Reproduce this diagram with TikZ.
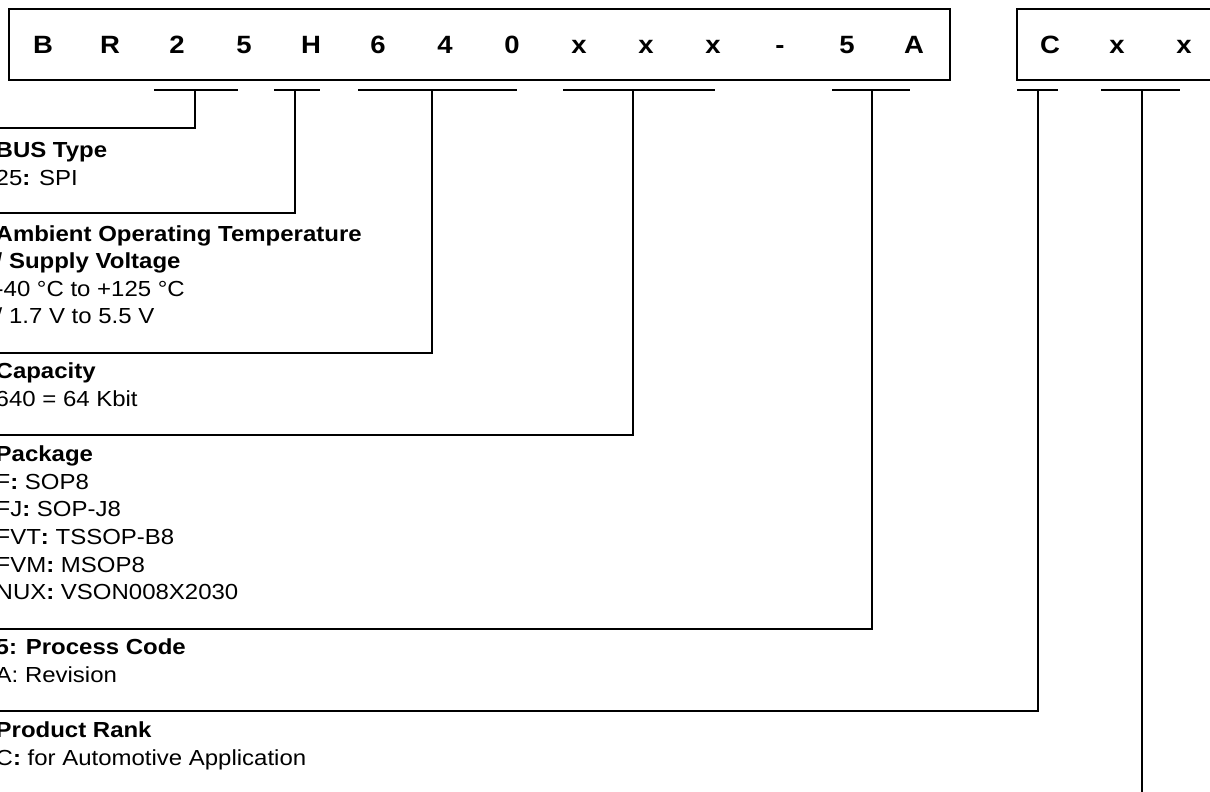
\documentclass[tikz,border=0pt]{standalone}
\usepackage{fontspec}
\setmainfont{Liberation Sans}[FakeStretch=1.1]
\begin{document}
\begin{tikzpicture}[x=1pt,y=-1pt,
  boxline/.style={line width=1.9pt},
  conn/.style={line width=1.5pt},
  letter/.style={font=\fontsize{25}{25}\selectfont\bfseries,inner sep=0pt,anchor=base},
  ttl/.style={font=\fontsize{21.8}{27}\selectfont\bfseries,inner sep=0pt,anchor=base west},
  txt/.style={font=\fontsize{21.8}{27}\selectfont,inner sep=0pt,anchor=base west}]
\useasboundingbox (0,0) rectangle (1210,792);
\clip (0,0) rectangle (1210,792);
% boxes
\draw[boxline] (9,9) rectangle (950,80);
\draw[boxline] (1017,9) rectangle (1240,80);
% letters
\foreach \ch [count=\i from 0] in {B,R,2,5,H,6,4,0,x,x,x,-,5,A}
  \node[letter] (L\i) at ({43+67*\i},53.5) {\ch};
\foreach \ch [count=\i from 0] in {C,x,x}
  \node[letter] (M\i) at ({1050+67*\i},53.5) {\ch};
% bars
\draw[conn] (154,90) -- (238,90); \coordinate (b1) at (195,91);
\draw[conn] (274,90) -- (320,90); \coordinate (b2) at (295,91);
\draw[conn] (358,90) -- (517,90); \coordinate (b3) at (432,91);
\draw[conn] (563,90) -- (715,90); \coordinate (b4) at (633,91);
\draw[conn] (832,90) -- (910,90); \coordinate (b5) at (872,91);
\draw[conn] (1017,90) -- (1058,90); \coordinate (b6) at (1038,91);
\draw[conn] (1101,90) -- (1180,90); \coordinate (b7) at (1142,91);
% left ends
\coordinate (e1) at (-5,128);
\coordinate (e2) at (-5,213);
\coordinate (e3) at (-5,353);
\coordinate (e4) at (-5,435);
\coordinate (e5) at (-5,629);
\coordinate (e6) at (-5,711);
\coordinate (e7) at (1142,800);
% connectors
\draw[conn] (b1) |- (e1);
\draw[conn] (b2) |- (e2);
\draw[conn] (b3) |- (e3);
\draw[conn] (b4) |- (e4);
\draw[conn] (b5) |- (e5);
\draw[conn] (b6) |- (e6);
\draw[conn] (b7) -- (e7);
% texts
\node[ttl] (t1a) at (-4.5,157) {BUS Type};
\node[txt] (t1b) at (-4.5,185) {25\textbf{:} SPI};
\node[ttl] (t2a) at (-4.5,241) {Ambient Operating Temperature};
\node[ttl] (t2b) at (-4.5,268) {/ Supply Voltage};
\node[txt] (t2c) at (-4.5,296) {-40 °C to +125 °C};
\node[txt] (t2d) at (-4.5,323) {/ 1.7 V to 5.5 V};
\node[ttl] (t3a) at (-4.5,378) {Capacity};
\node[txt] (t3b) at (-4.5,406) {640 = 64 Kbit};
\node[ttl] (t4a) at (-4.5,461) {Package};
\node[txt] (t4b) at (-4.5,489) {F\textbf{:} SOP8};
\node[txt] (t4c) at (-4.5,516) {FJ\textbf{:} SOP-J8};
\node[txt] (t4d) at (-4.5,544) {FVT\textbf{:} TSSOP-B8};
\node[txt] (t4e) at (-4.5,572) {FVM\textbf{:} MSOP8};
\node[txt] (t4f) at (-4.5,599) {NUX\textbf{:} VSON008X2030};
\node[ttl] (t5a) at (-4.5,654) {5: Process Code};
\node[txt] (t5b) at (-4.5,682) {A: Revision};
\node[ttl] (t6a) at (-4.5,737) {Product Rank};
\node[txt] (t6b) at (-4.5,765) {C\textbf{:} for Automotive Application};
\end{tikzpicture}
\end{document}
